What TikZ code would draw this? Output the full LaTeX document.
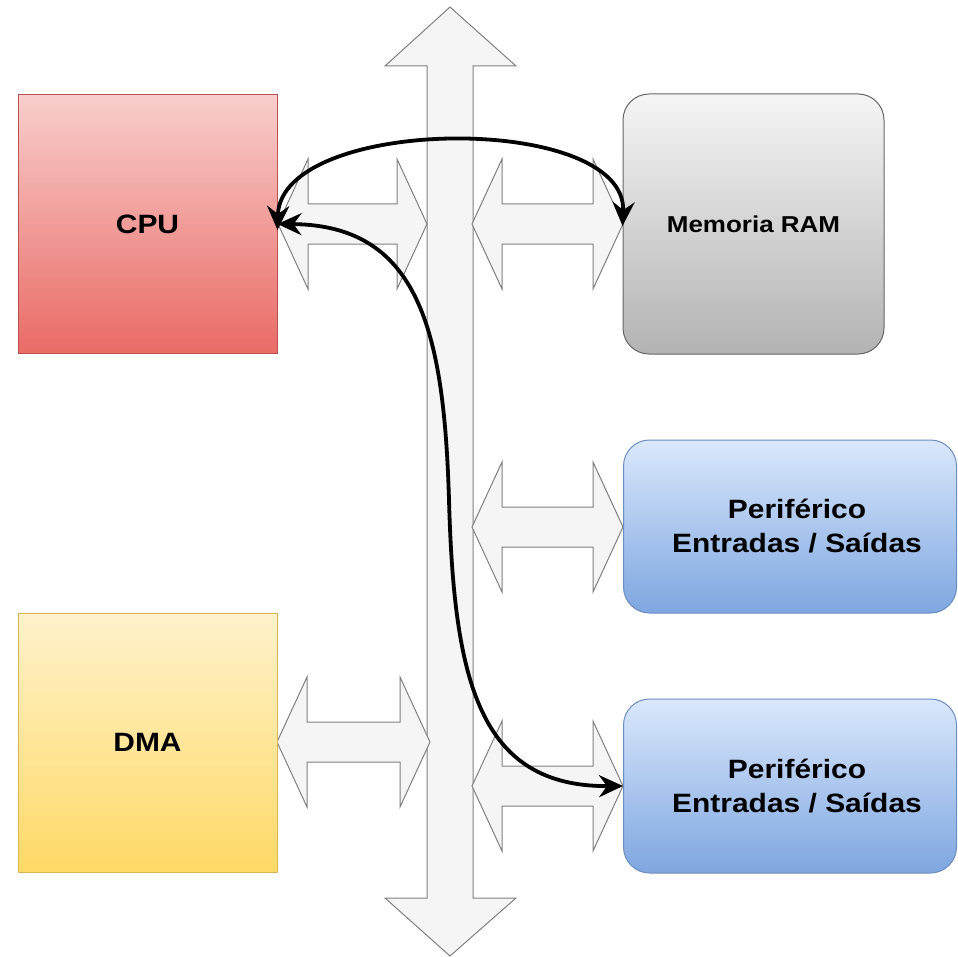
\documentclass[tikz,border=0pt]{standalone}
\usepackage{fontspec}
\newfontfamily\lab[FakeStretch=1.13]{Liberation Sans}
\usetikzlibrary{arrows.meta}
\definecolor{cputop}{HTML}{F8CECC}\definecolor{cpubot}{HTML}{EA6B66}\definecolor{cpuline}{HTML}{B85450}
\definecolor{dmatop}{HTML}{FFF2CC}\definecolor{dmabot}{HTML}{FFD966}\definecolor{dmaline}{HTML}{D6B656}
\definecolor{ramtop}{HTML}{F5F5F5}\definecolor{rambot}{HTML}{B3B3B3}\definecolor{ramline}{HTML}{666666}
\definecolor{pertop}{HTML}{DAE8FC}\definecolor{perbot}{HTML}{7EA6E0}\definecolor{perline}{HTML}{6C8EBF}
\definecolor{busfill}{HTML}{F5F5F5}\definecolor{busline}{HTML}{808080}
\newcommand\hdarr[3]{%
  \draw[busshape] (#1,#3) -- (#1+30,#3-65) -- (#1+30,#3-20) -- (#2-30,#3-20) -- (#2-30,#3-65) -- (#2,#3)
    -- (#2-30,#3+65) -- (#2-30,#3+20) -- (#1+30,#3+20) -- (#1+30,#3+65) -- cycle;}
\begin{document}
\begin{tikzpicture}[x=0.5pt,y=-0.5pt,
  busshape/.style={draw=busline,fill=busfill,line width=0.5pt,line join=miter},
  box/.style={draw,line width=0.5pt,inner sep=0pt,align=center,
    font={\lab\bfseries\fontsize{13.25pt}{17pt}\selectfont}},
  conn/.style={draw=black,line width=1.9pt},
  bitip/.style={{Stealth[length=12pt,width=11pt,inset=4pt]}-{Stealth[length=12pt,width=11pt,inset=4pt]}}]
\useasboundingbox (0,0) rectangle (957,957);
% bus
\draw[busshape] (450,7) -- (516,66) -- (473,66) -- (473,898) -- (516,898) -- (450,956)
  -- (385,898) -- (427,898) -- (427,66) -- (385,66) -- cycle;
% horizontal double arrows
\hdarr{278}{427}{224}
\hdarr{472}{623}{224}
\hdarr{472}{623}{527}
\hdarr{277}{430}{742}
\hdarr{472}{623}{786}
% nodes
\node[box,draw=cpuline,top color=cputop,bottom color=cpubot,minimum width=129.5pt,minimum height=129pt] (cpu) at (147.5,224) {CPU};
\node[box,draw=dmaline,top color=dmatop,bottom color=dmabot,minimum width=129.5pt,minimum height=129.5pt] (dma) at (147.5,742.5) {DMA};
\node[box,draw=ramline,top color=ramtop,bottom color=rambot,rounded corners=13pt,minimum width=130.5pt,minimum height=130pt,
  font={\lab\bfseries\fontsize{11.5pt}{14pt}\selectfont}] (ram) at (753.5,224) {Memoria RAM};
\node[box,draw=perline,top color=pertop,bottom color=perbot,rounded corners=13pt,minimum width=166.5pt,minimum height=86.5pt] (per1) at (790,526.5) {\hspace*{7pt}Periférico\\\hspace*{7pt}Entradas / Saídas};
\node[box,draw=perline,top color=pertop,bottom color=perbot,rounded corners=13pt,minimum width=166.5pt,minimum height=87pt] (per2) at (790,786) {\hspace*{7pt}Periférico\\\hspace*{7pt}Entradas / Saídas};
% connectors
\draw[conn,bitip] ([yshift=-3pt]cpu.east) .. controls +(3,-115) and +(5,-114) .. ([yshift=-1pt]ram.west);
\coordinate (mid) at (449,500);
\draw[conn,bitip] (cpu.east) .. controls (419,225) and (444,331) .. (mid) .. controls (454,681) and (479,787) .. (per2.west);
\end{tikzpicture}
\end{document}
